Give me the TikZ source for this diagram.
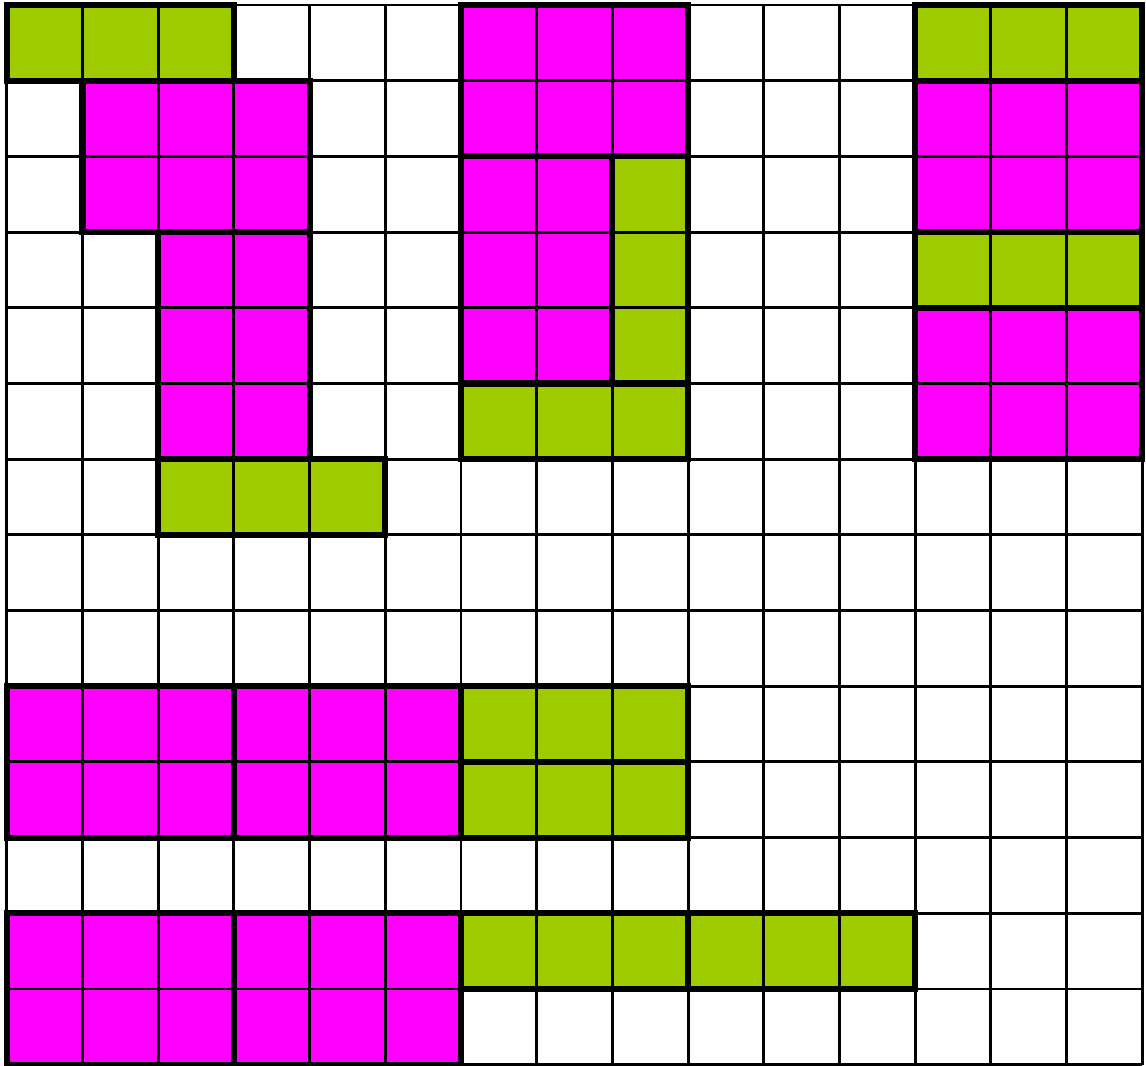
\documentclass[tikz,border=0pt]{standalone}
\usepackage{xcolor}
\usepackage{tikz}

\definecolor{piecegreen}{RGB}{158,204,0}
\definecolor{piecemagenta}{RGB}{255,0,255}

\begin{document}
\begin{tikzpicture}[
    x=1cm, y=-1cm,
    gridline/.style={line width=1.1pt},
    outline/.style={line width=2.3pt, line join=miter},
  ]
  \useasboundingbox (-0.09,-0.066) rectangle (15.05,14.01);
  % Pieces (col/row/width/height/colour)
  \foreach \c/\r/\w/\h/\col in {
      0/0/3/1/piecegreen, 2/6/3/1/piecegreen, 8/2/1/3/piecegreen,
      6/5/3/1/piecegreen, 12/0/3/1/piecegreen, 12/3/3/1/piecegreen,
      6/9/3/1/piecegreen, 6/10/3/1/piecegreen, 6/12/3/1/piecegreen,
      9/12/3/1/piecegreen,
      1/1/3/2/piecemagenta, 2/3/2/3/piecemagenta, 6/0/3/2/piecemagenta,
      6/2/2/3/piecemagenta, 12/1/3/2/piecemagenta, 12/4/3/2/piecemagenta,
      0/9/3/2/piecemagenta, 3/9/3/2/piecemagenta, 0/12/3/2/piecemagenta,
      3/12/3/2/piecemagenta}
    \fill[\col] (\c,\r) rectangle ++(\w,\h);
  % Board
  \draw[gridline] (0,0) grid (15,14);
  % Piece outlines
  \foreach \c/\r/\w/\h in {
      0/0/3/1, 2/6/3/1, 8/2/1/3, 6/5/3/1, 12/0/3/1, 12/3/3/1,
      6/9/3/1, 6/10/3/1, 6/12/3/1, 9/12/3/1,
      1/1/3/2, 2/3/2/3, 6/0/3/2, 6/2/2/3, 12/1/3/2, 12/4/3/2,
      0/9/3/2, 3/9/3/2, 0/12/3/2, 3/12/3/2}
    \draw[outline] (\c,\r) rectangle ++(\w,\h);
\end{tikzpicture}
\end{document}
